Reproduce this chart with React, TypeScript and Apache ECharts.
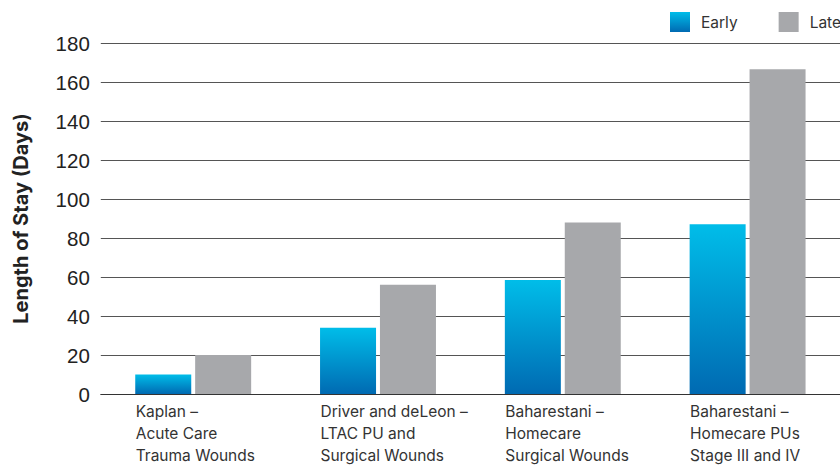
import React, { useEffect, useRef } from "react";
import * as echarts from "echarts";

const categories = [
  "Kaplan –\nAcute Care\nTrauma Wounds",
  "Driver and deLeon –\nLTAC PU and\nSurgical Wounds",
  "Baharestani –\nHomecare\nSurgical Wounds",
  "Baharestani –\nHomecare PUs\nStage III and IV",
];
const earlyValues = [10, 34, 58.5, 87];
const lateValues = [20, 56, 88, 166.5];
const seriesNames = ["Early", "Late"];
const yAxisTitle = "Length of Stay (Days)";

export default function App() {
  const ref = useRef<HTMLDivElement>(null);
  useEffect(() => {
    document.body.style.margin = "0";
    if (!ref.current) return;
    const chart = echarts.init(ref.current, null, { renderer: "svg" });
    const earlyGradient = new echarts.graphic.LinearGradient(0, 0, 0, 1, [
      { offset: 0, color: "#00bde9" },
      { offset: 1, color: "#006ab2" },
    ]);
    chart.setOption({
      animation: false,
      backgroundColor: "#ffffff",
      legend: {
        orient: "horizontal",
        left: 665,
        top: 7,
        width: 400,
        itemWidth: 20,
        itemHeight: 20,
        itemGap: 41,
        icon: "rect",
        textStyle: {
          fontFamily: "Inter",
          fontSize: 15.5,
          color: "#333",
          padding: [0, 0, 0, 6],
        },
        data: seriesNames,
      },
      grid: { left: 100.8, right: -3.9, top: 43, bottom: 72, containLabel: false },
      xAxis: {
        type: "category",
        data: categories,
        axisLine: { show: true, lineStyle: { color: "#333", width: 1 } },
        axisTick: { show: false },
        axisLabel: {
          interval: 0,
          align: "left",
          padding: [0, 0, 0, -57.5],
          margin: 6,
          fontFamily: "Inter",
          fontSize: 15.5,
          lineHeight: 22,
          color: "#333",
        },
      },
      yAxis: {
        type: "value",
        min: 0,
        max: 180,
        interval: 20,
        name: yAxisTitle,
        nameLocation: "middle",
        nameGap: 70,
        nameTextStyle: {
          fontFamily: "Inter",
          fontWeight: "bold",
          fontSize: 20,
          color: "#222",
        },
        axisLine: { show: false },
        axisTick: { show: false },
        axisLabel: {
          margin: 11,
          fontFamily: "Liberation Sans",
          fontSize: 20.5,
          color: "#222",
        },
        splitLine: { lineStyle: { color: "#555", width: 1 } },
      },
      series: [
        {
          name: seriesNames[0],
          type: "bar",
          data: earlyValues,
          barWidth: 56,
          barGap: "7%",
          itemStyle: { color: earlyGradient },
        },
        {
          name: seriesNames[1],
          type: "bar",
          data: lateValues,
          barWidth: 56,
          barGap: "7%",
          itemStyle: { color: "#a7a8ab" },
        },
      ],
    });
    return () => chart.dispose();
  }, []);
  return <div ref={ref} style={{ width: 840, height: 466 }} />;
}
